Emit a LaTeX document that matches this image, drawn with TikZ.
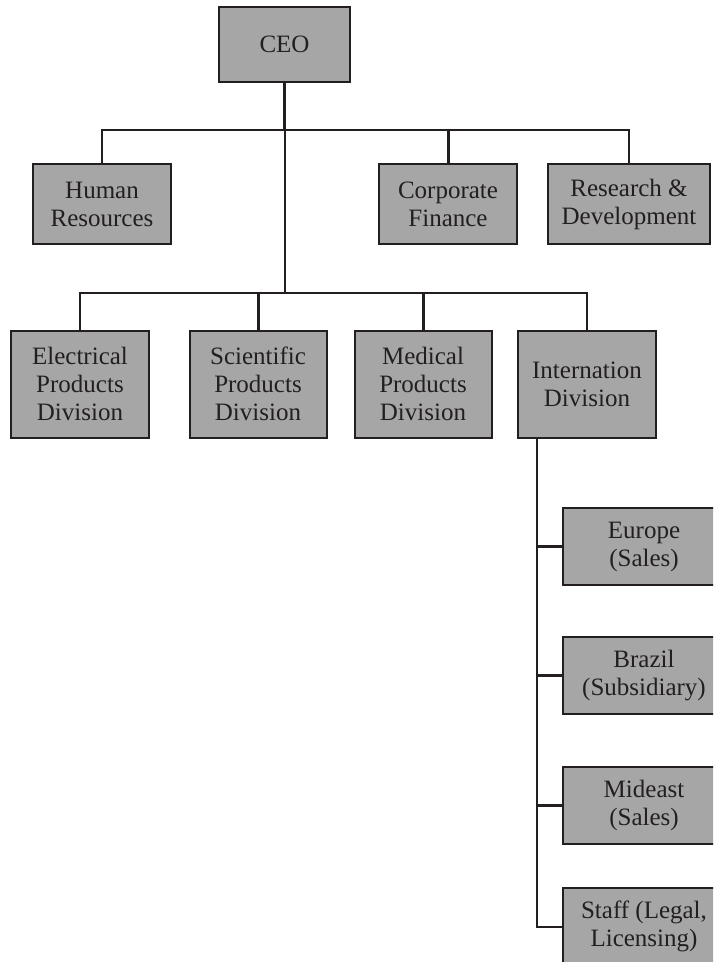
\documentclass[tikz,border=0pt]{standalone}
\usepackage{fontspec}
\setmainfont{Liberation Serif}
\definecolor{boxfill}{RGB}{166,166,166}
\definecolor{ink}{RGB}{35,31,32}
\begin{document}
\begin{tikzpicture}[x=0.5pt,y=-0.5pt,
  unit/.style={draw=ink, line width=1pt, fill=boxfill, text=ink,
    rectangle, inner sep=0pt, align=center,
    font=\fontsize{12.5pt}{14pt}\selectfont},
  conn/.style={draw=ink, line width=1pt},
  heavy/.style={draw=ink, line width=1.5pt}]
\useasboundingbox (0,0) rectangle (713,962);
\clip (0,0) rectangle (713,962);

% top level
\node[unit, minimum width=65.5pt, minimum height=37.5pt] (ceo) at (284.5,44.5) {CEO};

% staff functions
\node[unit, minimum width=69pt, minimum height=40pt] (hr) at (102,204) {Human\\Resources};
\node[unit, minimum width=69pt, minimum height=40pt] (cf) at (448,204) {Corporate\\Finance};
\node[unit, minimum width=81pt, minimum height=40pt] (rd) at (629,204) {Research \&\\Development};

% divisions
\node[unit, minimum width=69pt, minimum height=53.5pt] (el) at (80,384) {Electrical\\Products\\Division};
\node[unit, minimum width=68.5pt, minimum height=53.5pt] (sc) at (258,384) {Scientific\\Products\\Division};
\node[unit, minimum width=68.5pt, minimum height=53.5pt] (md) at (423,384) {Medical\\Products\\Division};
\node[unit, minimum width=69pt, minimum height=53.5pt] (in) at (587,384) {Internation\\Division};

% international units
\node[unit, minimum width=81pt, minimum height=38.5pt] (eu) at (644,546.5) {Europe\\(Sales)};
\node[unit, minimum width=81pt, minimum height=38.5pt] (br) at (644,675.5) {Brazil\\(Subsidiary)};
\node[unit, minimum width=81pt, minimum height=38.5pt] (me) at (644,805) {Mideast\\(Sales)};
\node[unit, minimum width=81pt, minimum height=38.5pt] (st) at (644,926.5) {Staff (Legal,\\Licensing)};

% bus levels and trunk
\coordinate (b1) at (0,130);
\coordinate (b2) at (0,293);
\coordinate (tr) at (537,0);

% CEO to staff functions
\draw[heavy] (ceo.south) -- (ceo.south |- b1);
\draw[conn] (ceo.south |- b1) -- (ceo.south |- b2);
\draw[conn] (hr.north) -- (hr.north |- b1) -- (rd.north |- b1) -- (rd.north);
\draw[heavy] (cf.north) -- (cf.north |- b1);

% CEO to divisions
\draw[conn] (el.north) -- (el.north |- b2) -- (in.north |- b2) -- (in.north);
\draw[heavy] (sc.north) -- (sc.north |- b2);
\draw[heavy] (md.north) -- (md.north |- b2);

% International division to its units
\draw[conn] (tr |- in.south) -- (tr |- st.west) -- (st.west);
\draw[heavy] (tr |- eu.west) -- (eu.west);
\draw[heavy] (tr |- br.west) -- (br.west);
\draw[heavy] (tr |- me.west) -- (me.west);
\end{tikzpicture}
\end{document}
